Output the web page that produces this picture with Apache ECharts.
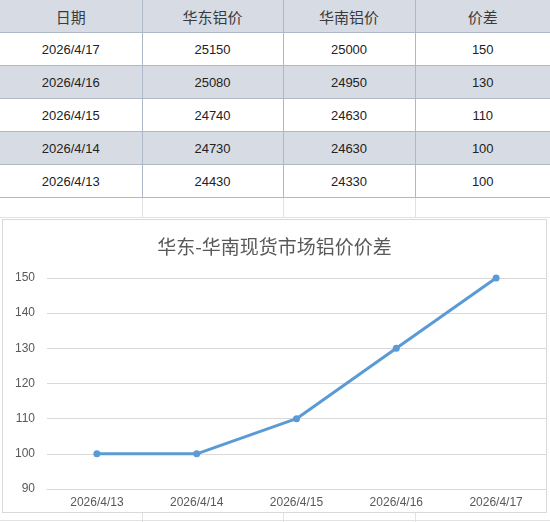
<!DOCTYPE html>
<html>
<head>
<meta charset="utf-8">
<title>华东-华南现货市场铝价价差</title>
<script src="https://cdn.jsdelivr.net/npm/echarts@6/dist/echarts.min.js"></script>
<style>
    html, body { margin: 0; padding: 0; background: #fff; }
    #page { position: relative; width: 550px; height: 522px; overflow: hidden; font-family: "Liberation Sans", "Noto Sans CJK SC", sans-serif; }
    #tbl { position: absolute; left: 0; top: 0; width: 550px; border-collapse: collapse; table-layout: fixed; }
    #tbl td { height: 32px; padding: 0; text-align: center; font-size: 13px; color: #222; border: 1px solid #AEB8C6; border-top: none; }
    #tbl tr.hd td { font-size: 15px; color: #3a3a3a; font-family: "Noto Sans CJK SC", sans-serif; border-top: none; }
    #tbl tr.gray td { background: #D7DCE4; }
    #tbl tr.blank td { height: 19px; border-color: #E2E2E2; border-bottom: 1px solid #E2E2E2; }
    #tbl td:first-child { border-left: none; }
    #tbl td:last-child { border-right: none; }
    .vline { position: absolute; top: 500px; height: 22px; width: 1px; background: #E2E2E2; }
    .hline { position: absolute; left: 0; width: 550px; height: 1px; background: #E2E2E2; }
    #box { position: absolute; left: 2px; top: 219px; width: 545px; height: 294px; box-sizing: border-box; border: 1px solid #D9D9D9; background: #fff; }
    #main { position: absolute; left: 0; top: 0; width: 543px; height: 292px; }
</style>
</head>
<body>
<div id="page">
    <table id="tbl">
        <colgroup><col style="width:142px"><col style="width:141px"><col style="width:132px"><col style="width:135px"></colgroup>
        <tbody id="tbody"></tbody>
    </table>
    <div class="hline" style="top:520px"></div>
    <div class="vline" style="left:142px"></div>
    <div class="vline" style="left:283px"></div>
    <div class="vline" style="left:415px"></div>
    <div id="box"><div id="main"></div></div>
</div>
<script>
// 数据
var headers = ['日期', '华东铝价', '华南铝价', '价差'];
var dates = ['2026/4/13', '2026/4/14', '2026/4/15', '2026/4/16', '2026/4/17'];
var eastPrice = [24430, 24730, 24740, 25080, 25150];
var southPrice = [24330, 24630, 24630, 24950, 25000];
var spread = [100, 100, 110, 130, 150];
var yMin = 90, yMax = 150, yStep = 10;
var chartTitle = '华东-华南现货市场铝价价差';

//表格，最新日期在上
function buildTable() {
    var html = '<tr class="hd gray">';
    headers.forEach(function (h) { html += '<td>' + h + '</td>'; });
    html += '</tr>';
    for (var i = dates.length - 1, k = 0; i >= 0; i--, k++) {
        html += '<tr' + (k % 2 === 1 ? ' class="gray"' : '') + '>'
            + '<td>' + dates[i] + '</td>'
            + '<td>' + eastPrice[i] + '</td>'
            + '<td>' + southPrice[i] + '</td>'
            + '<td>' + spread[i] + '</td></tr>';
    }
    html += '<tr class="blank"><td></td><td></td><td></td><td></td></tr>';
    document.getElementById('tbody').innerHTML = html;
}

//折线图
function loadChart() {
    var myChart = echarts.init(document.getElementById('main'));
    var option = {
        animation: false,
        title: {
            text: chartTitle,
            left: 'center',
            top: 12,
            textStyle: { fontSize: 19, fontWeight: 'normal', color: '#595959', fontFamily: 'Noto Sans CJK SC' }
        },
        grid: { left: 44, right: 0, top: 58, bottom: 23 },
        xAxis: {
            type: 'category',
            boundaryGap: true,
            data: dates,
            axisLine: { lineStyle: { color: '#D9D9D9' } },
            axisTick: { length: 4, lineStyle: { color: '#D9D9D9' } },
            axisLabel: { color: '#595959', fontSize: 12, margin: 8, fontFamily: 'Liberation Sans' }
        },
        yAxis: {
            type: 'value',
            min: yMin,
            max: yMax,
            interval: yStep,
            axisLine: { show: false },
            axisTick: { show: false },
            splitLine: { lineStyle: { color: '#D9D9D9' } },
            axisLabel: { color: '#595959', fontSize: 12, margin: 12, fontFamily: 'Liberation Sans' }
        },
        series: [
            {
                name: '价差',
                type: 'line',
                data: spread,
                symbol: 'circle',
                symbolSize: 7,
                lineStyle: { color: '#5B9BD5', width: 3 },
                itemStyle: { color: '#5B9BD5' }
            }
        ]
    };
    myChart.setOption(option);
}

buildTable();
loadChart();
</script>
</body>
</html>
